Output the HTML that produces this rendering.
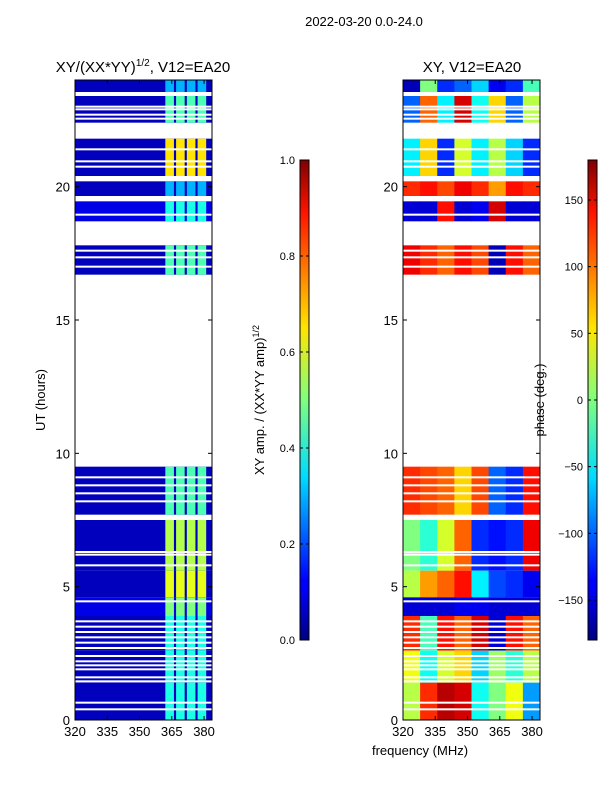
<!DOCTYPE html>
<html><head><meta charset="utf-8"><style>
body{margin:0;background:#fff;font-family:"Liberation Sans",sans-serif}
svg text{font-family:"Liberation Sans",sans-serif;fill:#000}
</style></head><body>
<svg id="c" width="600" height="800" xmlns="http://www.w3.org/2000/svg">
<defs>
<linearGradient id="jet" x1="0" y1="1" x2="0" y2="0">
<stop offset="0" stop-color="#00007f"/><stop offset="0.11" stop-color="#0000ff"/><stop offset="0.125" stop-color="#0000ff"/><stop offset="0.34" stop-color="#00dbff"/><stop offset="0.5" stop-color="#7fff7f"/><stop offset="0.65" stop-color="#ffe500"/><stop offset="0.89" stop-color="#ff1400"/><stop offset="1" stop-color="#7f0000"/>
</linearGradient>
</defs>
<text x="364" y="26" font-size="13" text-anchor="middle">2022-03-20 0.0-24.0</text>
<text x="143" y="72" font-size="15" text-anchor="middle">XY/(XX*YY)<tspan font-size="10" dy="-6">1/2</tspan><tspan dy="6">, V12=EA20</tspan></text>
<text x="472" y="72" font-size="15" text-anchor="middle">XY, V12=EA20</text>
<text transform="translate(45,400) rotate(-90)" font-size="13" text-anchor="middle">UT (hours)</text>
<text x="420" y="755" font-size="13" text-anchor="middle">frequency (MHz)</text>
<text transform="translate(264,400) rotate(-90)" font-size="13" text-anchor="middle">XY amp. / (XX*YY amp)<tspan font-size="9" dy="-5">1/2</tspan></text>
<text transform="translate(544,400) rotate(-90)" font-size="13" text-anchor="middle">phase (deg.)</text>
<g id="L"></g><g id="R"></g><g id="A"></g>
</svg>
<script>
const blocks=[[23.55,24],[22.4,23.4],[20.4,21.8],[19.65,20.2],[18.7,19.45],[16.7,17.8],[7.7,9.5],[5.6,7.5],[4.6,5.6],[3.9,4.6],[2.6,3.9],[1.4,2.6],[0,1.4]];
const ampStripe=[0.3,0.45,0.65,0.3,0.4,0.45,0.45,0.55,0.6,0.5,0.4,0.4,0.4];
const ampBase=[0.06,0.06,0.06,0.06,0.1,0.06,0.06,0.06,0.06,0.1,0.06,0.06,0.06];
const phaseVals=[[-160,0,-120,-100,-60,-140,-120,-20],[-100,100,-50,150,-40,60,-100,20],[-50,60,-120,30,-50,20,-60,-120],[120,130,110,140,120,80,130,120],[-150,-150,130,-150,-140,150,-150,-150],[140,120,100,130,110,-160,130,100],[120,110,100,60,110,-100,-120,130],[0,-30,30,100,-120,-130,-120,140],[20,80,100,130,-50,-110,-120,-140],[-150,-150,-150,-140,-140,-150,-150,-150],[120,-20,130,100,150,-150,130,100],[40,-40,30,60,-60,10,-30,20],[20,120,160,150,-40,0,40,-80]];
const whiteLines=[23.0,22.9,22.7,22.55,21.4,20.95,20.75,18.95,17.35,17.0,17.6,9.1,8.8,8.5,8.2,6.3,6.2,5.8,4.45,3.7,3.5,3.3,3.1,2.9,2.7,2.4,2.2,2.05,1.9,1.6,1.45,0.65,0.4];
const stripes=[[362,366],[367,371],[372,376],[377,381]];
const xTicks=[320,335,350,365,380];
const yTicks=[0,5,10,15,20];
const ampTicks=[0,0.2,0.4,0.6,0.8,1.0];
const phTicks=[-150,-100,-50,0,50,100,150];
const NS='http://www.w3.org/2000/svg';
const yTop=80,yBot=720,pw=137,L0=75,R0=403,fmin=320,fmax=383.7;
const yS=h=>yBot-(h/24)*(yBot-yTop);
const xS=(x0,f)=>x0+(f-fmin)/(fmax-fmin)*pw;
function jet(v){v=Math.max(0,Math.min(1,v));const c=t=>Math.round(255*Math.max(0,Math.min(1,1.5-Math.abs(4*v-t))));return `rgb(${c(3)},${c(2)},${c(1)})`;}
function el(g,t,a){const e=document.createElementNS(NS,t);for(const k in a)e.setAttribute(k,a[k]);g.appendChild(e);return e;}
const Lg=document.getElementById('L'),Rg=document.getElementById('R'),Ag=document.getElementById('A');
blocks.forEach((b,i)=>{
 const y1=yS(b[1]),y2=yS(b[0]);
 let r=el(Lg,'rect',{x:L0,y:y1,width:pw,height:y2-y1,fill:jet(ampBase[i])});
 
 
 stripes.forEach(s=>{let q=el(Lg,'rect',{x:xS(L0,s[0]),y:y1,width:xS(L0,s[1])-xS(L0,s[0]),height:y2-y1,fill:jet(ampStripe[i])});
  
  });
 const n=phaseVals[i].length;
 phaseVals[i].forEach((p,j)=>{const f1=fmin+(fmax-fmin)*j/n,f2=fmin+(fmax-fmin)*(j+1)/n;
  let q=el(Rg,'rect',{x:xS(R0,f1),y:y1,width:xS(R0,f2)-xS(R0,f1)+0.5,height:y2-y1,fill:jet((p+180)/360)});
  
  });
});
whiteLines.forEach(h=>{[L0,R0].forEach(x0=>{let q=el(Ag,'rect',{x:x0,y:yS(h)-1,width:pw,height:2,fill:'#fff'});
 
 });});
[L0,R0].forEach((x0,k)=>{
 let f=el(Ag,'rect',{x:x0,y:yTop,width:pw,height:yBot-yTop,fill:'none',stroke:'#000','stroke-width':1});
 
 
 xTicks.forEach(t=>{const x=xS(x0,t);el(Ag,'line',{x1:x,x2:x,y1:yBot,y2:yBot-4,stroke:'#000'});el(Ag,'line',{x1:x,x2:x,y1:yTop,y2:yTop+4,stroke:'#000'});
  let tx=el(Ag,'text',{x:x,y:yBot+16,'font-size':13,'text-anchor':'middle'});tx.textContent=t;
  
  });
 yTicks.forEach(t=>{const y=yS(t);el(Ag,'line',{x1:x0,x2:x0+4,y1:y,y2:y,stroke:'#000'});el(Ag,'line',{x1:x0+pw,x2:x0+pw-4,y1:y,y2:y,stroke:'#000'});
  let tx=el(Ag,'text',{x:x0-5,y:y+5,'font-size':13,'text-anchor':'end'});tx.textContent=t;
  
  });
});
function cbar(x,lab,ticks,mn,mx,name){
 let r=el(Ag,'rect',{x:x,y:160,width:9,height:480,fill:'url(#jet)',stroke:'#000','stroke-width':1});
 
 
 ticks.forEach(t=>{const y=640-(t-mn)/(mx-mn)*480;el(Ag,'line',{x1:x,x2:x+3,y1:y,y2:y,stroke:'#000'});el(Ag,'line',{x1:x+9,x2:x+6,y1:y,y2:y,stroke:'#000'});
  let tx=el(Ag,'text',{x:x-5,y:y+4,'font-size':11,'text-anchor':'end'});tx.textContent=lab(t);
  
  });
}
cbar(300,t=>t.toFixed(1),ampTicks,0,1,'amp-colorbar');
cbar(588,t=>t<0?'\u2212'+(-t):''+t,phTicks,-180,180,'phase-colorbar');
</script>
</body></html>
